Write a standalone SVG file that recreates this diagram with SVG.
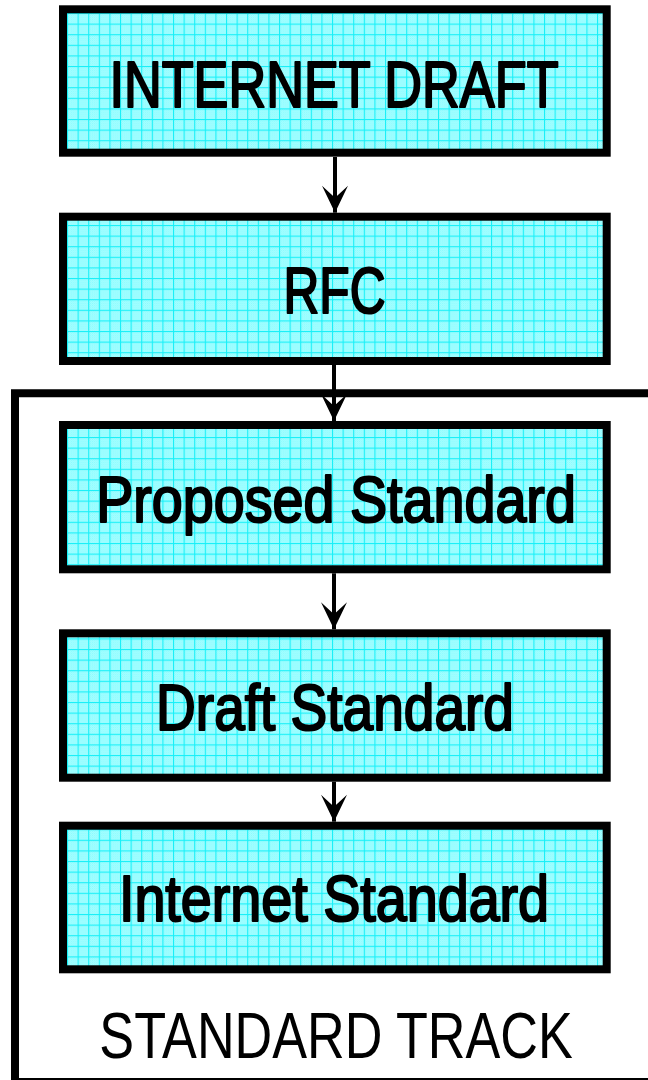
<svg xmlns="http://www.w3.org/2000/svg" width="648" height="1080" viewBox="0 0 648 1080">
  <defs>
    <!-- fine dither used as the base of the cell fill -->
    <pattern id="dither" patternUnits="userSpaceOnUse" width="2" height="2">
      <rect width="2" height="2" fill="#b4ffff"/>
      <rect width="1" height="1" fill="#84fcff"/>
      <rect x="1" y="1" width="1" height="1" fill="#84fcff"/>
    </pattern>
    <!-- cyan grid paper -->
    <pattern id="grid" patternUnits="userSpaceOnUse" x="67" y="13" width="10.6" height="10.6">
      <rect width="10.6" height="10.6" fill="url(#dither)"/>
      <rect width="10.6" height="1.1" fill="#18f0f8"/>
      <rect width="1.1" height="10.6" fill="#18f0f8"/>
    </pattern>
    <marker id="head" markerUnits="userSpaceOnUse" viewBox="-14 -28 28 29" refX="0" refY="0" markerWidth="28" markerHeight="29" orient="auto-start-reverse" overflow="visible">
      <path d="M0,0 L-13,-27 L0,-15 L13,-27 Z" fill="#000" transform="rotate(-90)"/>
    </marker>
    <style>
      .box { fill: url(#grid); stroke: #000; stroke-width: 8; }
      /* condensed lettering: regular face squeezed horizontally */
      .label { font-family: "Liberation Sans", Arial, sans-serif; font-size: 64px; font-weight: normal; fill: #000; stroke: #000; stroke-width: 2.2; stroke-linejoin: round; text-anchor: middle; }
      .track { font-family: "Liberation Sans", Arial, sans-serif; font-size: 64px; font-weight: normal; fill: #000; text-anchor: middle; }
      .link { stroke: #000; stroke-width: 4; fill: none; marker-end: url(#head); }
    </style>
  </defs>

  <rect width="648" height="1080" fill="#fff"/>

  <!-- standard track frame -->
  <g id="standard-track">
    <path d="M652,393.3 H15 V1082 H652" fill="none" stroke="#000" stroke-width="8"/>
    <text class="track" transform="translate(336,1058) scale(0.815,1)">STANDARD TRACK</text>
  </g>

  <g id="internet-draft">
    <rect class="box" x="63" y="9.3" width="543.7" height="143.4"/>
    <text class="label" transform="translate(334,107) scale(0.817,1)">INTERNET DRAFT</text>
  </g>

  <g id="rfc">
    <rect class="box" x="63" y="216.7" width="543.7" height="144.3"/>
    <text class="label" transform="translate(334.5,313) scale(0.775,1)">RFC</text>
  </g>

  <g id="proposed-standard">
    <rect class="box" x="63" y="425" width="543.7" height="144.3"/>
    <text class="label" transform="translate(336,522) scale(0.87,1)">Proposed Standard</text>
  </g>

  <g id="draft-standard">
    <rect class="box" x="63" y="633.3" width="543.7" height="144.4"/>
    <text class="label" transform="translate(335,730) scale(0.86,1)">Draft Standard</text>
  </g>

  <g id="internet-standard">
    <rect class="box" x="63" y="825.7" width="543.7" height="143.6"/>
    <text class="label" transform="translate(334,921) scale(0.87,1)">Internet Standard</text>
  </g>

  <g id="connectors">
    <path class="link" d="M335,157 V212.7"/>
    <path class="link" d="M334,365 V421"/>
    <path class="link" d="M334,573.3 V629.3"/>
    <path class="link" d="M334,781.7 V821.7"/>
  </g>
</svg>
